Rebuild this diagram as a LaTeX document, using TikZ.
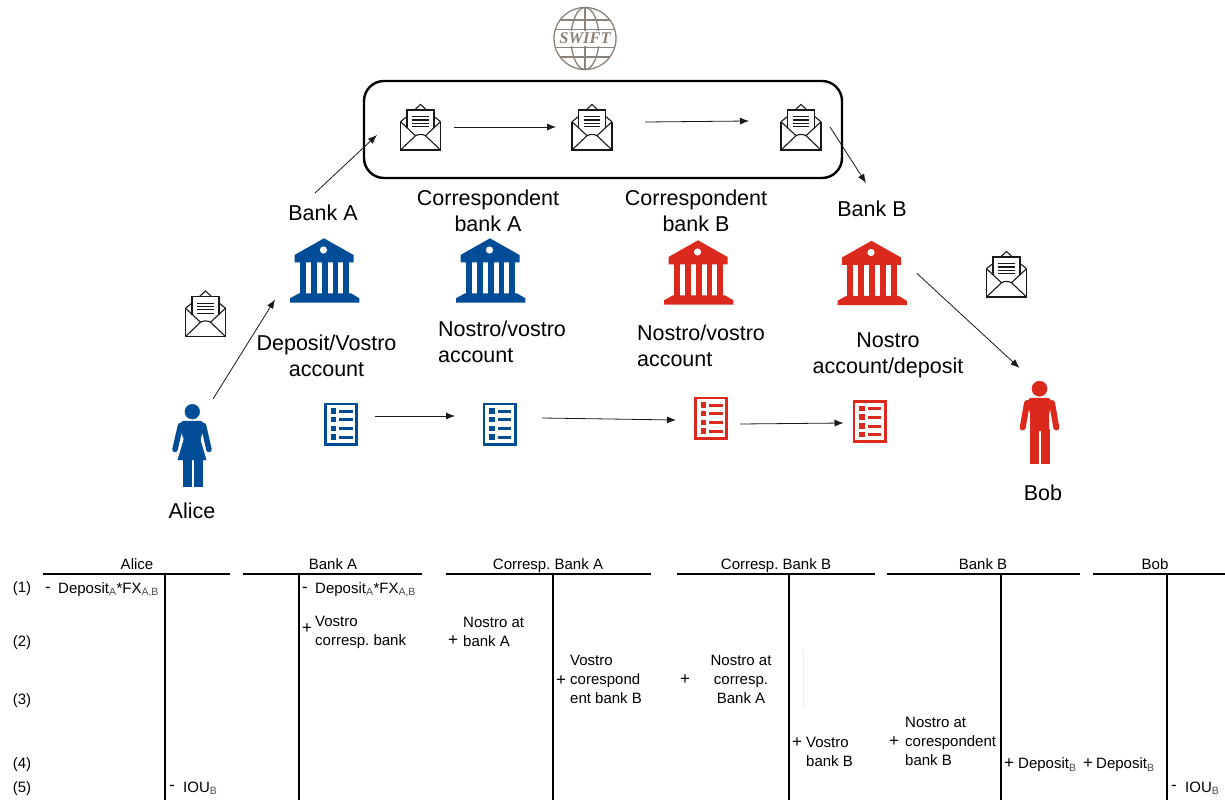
\documentclass[tikz,border=0pt]{standalone}
\usepackage{fontspec}
\setmainfont{Liberation Sans}
\newfontfamily\logofont{Liberation Serif}
\usetikzlibrary{arrows.meta}
\usetikzlibrary{positioning}

\definecolor{bankblue}{HTML}{004C97}
\definecolor{bankred}{HTML}{DC291E}
\definecolor{logogray}{HTML}{8C8279}

\newcommand{\sbs}[1]{\textsubscript{\textcolor{black!70}{#1}}}

\tikzset{
  iconbox/.style={inner sep=0pt, outer sep=0pt, minimum width=#1},
  flow/.style={-{Latex[length=9pt,width=7pt]}, line width=0.8pt, black!90},
  biglabel/.style={inner sep=0pt, align=center, font=\fontsize{21.5}{26}\selectfont},
  tabtxt/.style={inner sep=0pt, anchor=west, align=left, font=\fontsize{15}{19}\selectfont},
  tabsign/.style={inner sep=0pt, anchor=west, font=\fontsize{17}{19}\selectfont},
  tabmid/.style={inner sep=0pt, align=center, font=\fontsize{15}{19}\selectfont},
  taccount/.style={line width=2.4pt},
  bankicon/.pic={
    \node[iconbox=69pt, minimum height=65pt] (-box) {};
    \fill[pic actions] (-1,-32.7) -- (-30.5,-16) -- (-30.5,-8.7) -- (28.5,-8.7) -- (28.5,-16) -- cycle;
    \fill[white] (-1.5,-21) circle (3.6);
    \foreach \colx in {-22.2,-11.2,-0.3,10.5,21.3}
      \fill[pic actions] (\colx-2.9,-8.7) rectangle (\colx+2.9,23);
    \fill[pic actions] (-26,22.3) -- (26,22.3) -- (34.3,27.3) -- (34.3,31.7) -- (-35,31.7) -- (-35,27.3) -- cycle;
  },
  listicon/.pic={
    \node[iconbox=34pt, minimum height=43pt] (-box) {};
    \draw[pic actions, fill=none, line width=2.8pt] (-15.6,-20.1) rectangle (15.6,20.1);
    \foreach \rowy in {-13.2,-4.8,4.2,12.8} {
      \fill[pic actions] (-10,\rowy-2.2) rectangle (-5.4,\rowy+2.2);
      \fill[pic actions] (-1.7,\rowy-1) rectangle (10.7,\rowy+1);
    }
  },
  mailicon/.pic={
    \node[iconbox=41pt, minimum height=46pt] (-box) {};
    \begin{scope}[line width=1.1pt, black!90]
      \draw (-20,-6.3) -- (-20,22) -- (20,22) -- (20,-6.3);
      \draw (-20,-6.3) -- (-13.5,-11.5) (20,-6.3) -- (13.5,-11.5);
      \draw (-6,-18) -- (0,-23.5) -- (6,-18);
      \draw (-13.5,0) -- (-13.5,-18) -- (13.5,-18) -- (13.5,0);
      \draw (-20,-6.3) -- (-5,7.7) .. controls (-2,6) and (2,6) .. (5,7.7) -- (20,-6.3);
      \draw (-20,22) -- (-5,7.7) (20,22) -- (5,7.7);
      \foreach \liney in {-11.3,-8,-4.7,-1.3}
        \draw[line width=1.2pt] (-8.3,\liney) -- (8.3,\liney);
    \end{scope}
  },
  womanicon/.pic={
    \node[iconbox=40pt, minimum height=82pt] (-box) {};
    \fill[pic actions] (0.3,-35.3) circle (7.4);
    \fill[pic actions, rounded corners=3pt] (-11,-26) -- (11,-26) -- (12,-18) -- (8,-8) [sharp corners] -- (14.2,13) -- (-14.2,13) -- (-8,-8) [rounded corners=3pt] -- (-12,-18) -- cycle;
    \draw[pic actions, fill=none, line width=5.5pt, line cap=round] (-11.5,-21.5) -- (-17,2.5) (11.5,-21.5) -- (17,2.5);
    \fill[pic actions] (-8.7,12) rectangle (-1,38.7);
    \fill[pic actions] (2.3,12) rectangle (9.7,38.7);
  },
  manicon/.pic={
    \node[iconbox=40pt, minimum height=88pt] (-box) {};
    \fill[pic actions] (0,-36.3) circle (7.6);
    \fill[pic actions, rounded corners=3pt] (-11,-27) -- (11,-27) -- (11.5,-20) -- (9.3,-12) [sharp corners] -- (9.3,6) -- (-9.3,6) -- (-9.3,-12) [rounded corners=3pt] -- (-11.5,-20) -- cycle;
    \draw[pic actions, fill=none, line width=6pt, line cap=round] (-12.5,-22) -- (-16.8,2.5) (12.5,-22) -- (16.8,2.5);
    \fill[pic actions] (-9,4) rectangle (-1,37.8);
    \fill[pic actions] (1.3,4) rectangle (9.3,37.8);
  }
}

\begin{document}
\frenchspacing
\begin{tikzpicture}[x=1pt, y=-1pt]
  \useasboundingbox (0,0) rectangle (1225,800);

  % logo
  \begin{scope}[shift={(585,38.5)}, logogray, line width=1.3pt]
    \draw (0,0) circle (31);
    \draw (0,-31) -- (0,31);
    \draw (0,0) ellipse (14 and 31);
    \draw (-29.7,-9) -- (29.7,-9) (-29.7,9) -- (29.7,9);
    \draw (-25.1,-18.5) -- (25.1,-18.5) (-25.1,18.5) -- (25.1,18.5);
    \node[fill=white, inner sep=0pt, minimum width=54pt, minimum height=15.5pt, font=\logofont\bfseries\itshape\fontsize{16.5}{16.5}\selectfont] (swift) at (0,0) {SWIFT};
  \end{scope}

  \node[draw, line width=2.4pt, rounded corners=20pt, minimum width=478pt, minimum height=97pt, inner sep=0pt] (network) at (603,129.5) {};

  \pic (mail1) at (420.5,128) {mailicon};
  \pic (mail2) at (592,128) {mailicon};
  \pic (mail3) at (801,128) {mailicon};
  \pic (mail4) at (205.5,314.5) {mailicon};
  \pic (mail5) at (1006.5,275) {mailicon};

  \pic[fill=bankblue] (bankA) at (325,271) {bankicon};
  \pic[fill=bankblue] (corrA) at (491,271) {bankicon};
  \pic[fill=bankred] (corrB) at (699,273) {bankicon};
  \pic[fill=bankred] (bankB) at (872.5,273.5) {bankicon};

  \pic[fill=bankblue, draw=bankblue] (listA) at (341,424) {listicon};
  \pic[fill=bankblue, draw=bankblue] (listB) at (499.5,424) {listicon};
  \pic[fill=bankred, draw=bankred] (listC) at (711,418) {listicon};
  \pic[fill=bankred, draw=bankred] (listD) at (869.5,421.5) {listicon};

  \pic[fill=bankblue, draw=bankblue] (alice) at (192,447) {womanicon};
  \pic[fill=bankred, draw=bankred] (bob) at (1039.5,425) {manicon};

  \node[biglabel] (lblBankA) at (323,213) {Bank A};
  \node[biglabel] (lblCorrA) at (488,211) {Correspondent\\bank A};
  \node[biglabel] (lblCorrB) at (696,211) {Correspondent\\bank B};
  \node[biglabel] (lblBankB) at (872,209) {Bank B};
  \node[biglabel] (lblDepo) at (326.5,356) {Deposit/Vostro\\account};
  \node[biglabel, align=left] (lblNvA) at (502,342) {Nostro/vostro\\account};
  \node[biglabel, align=left] (lblNvB) at (701,346) {Nostro/vostro\\account};
  \node[biglabel] (lblNoDe) at (888,355.5) {Nostro\\account/deposit};
  \node[biglabel] (lblAlice) at (192,511) {Alice};
  \node[biglabel] (lblBob) at (1043,493) {Bob};

  \draw[flow] ([shift={(1,-7)}]alice-box.north east) -- ([shift={(-15.5,-4)}]bankA-box.south west);
  \draw[flow] ([shift={(-10,-45.5)}]bankA-box.north) -- ([shift={(-23,7)}]mail1-box.west);
  \draw[flow] ([shift={(13,-1)}]mail1-box.east) -- ([shift={(-15.5,-1)}]mail2-box.west);
  \draw[flow] ([shift={(32.5,-6)}]mail2-box.east) -- ([shift={(-31.5,-7)}]mail3-box.west);
  \draw[flow] ([shift={(8.5,-1)}]mail3-box.east) -- ([shift={(-6.5,-58)}]bankB-box.north);
  \draw[flow] ([shift={(10,0)}]bankB-box.east) -- ([shift={(0,-13)}]bob-box.north west);
  \draw[flow] ([shift={(17,-8)}]listA-box.east) -- ([shift={(-27.5,-8)}]listB-box.west);
  \draw[flow] ([shift={(25.5,-6)}]listB-box.east) -- ([shift={(-18,2)}]listC-box.west);
  \draw[flow] ([shift={(12,6)}]listC-box.east) -- ([shift={(-9,1.5)}]listD-box.west);

  % T accounts
  \foreach \acc/\xa/\xb/\xv/\xt/\ttl in {al/43/230/165/137/Alice, ba/243/422/299/333/Bank A, ca/446/651/553/548/Corresp. Bank A, cb/677/875/789/776/Corresp. Bank B, bb/887/1080/1001/983/Bank B, bo/1093/1225/1167/1155/Bob} {
    \node[tabmid, text height=11pt, text depth=3pt] (head\acc) at (\xt,565) {\ttl};
    \draw[taccount] (\xa,574) -- (\xb,574);
    \draw[taccount] (\xv,574) -- (\xv,800);
  }
  \draw[black!8, line width=0.8pt] (803,650) -- (803,707);

  \foreach \rownr/\rowy in {1/589, 2/643, 3/701, 4/765, 5/789}
    \node[tabmid] (row\rownr) at (22,\rowy) {(\rownr)};

  \node[tabsign] (alMinus) at (45,590) {-};
  \node[tabtxt] (alDepo) at (58,590) {Deposit\sbs{A}*FX\sbs{A,B}};
  \node[tabsign] (alIouM) at (169,788) {-};
  \node[tabtxt] (alIou) at (183,788) {IOU\sbs{B}};

  \node[tabsign] (baMinus) at (302,590) {-};
  \node[tabtxt] (baDepo) at (315,590) {Deposit\sbs{A}*FX\sbs{A,B}};
  \node[tabsign] (baPlus) at (302,629) {+};
  \node[tabtxt] (baVos) at (315,632) {Vostro\\corresp. bank};

  \node[tabsign] (caPlusL) at (448,641) {+};
  \node[tabtxt] (caNos) at (463,632) {Nostro at\\bank A};
  \node[tabsign] (caPlusR) at (556,681) {+};
  \node[tabtxt] (caVos) at (570,679) {Vostro\\corespond\\ent bank B};

  \node[tabsign] (cbPlusL) at (680,680) {+};
  \node[tabmid] (cbNos) at (741,679) {Nostro at\\corresp.\\Bank A};
  \node[tabsign] (cbPlusR) at (792,743) {+};
  \node[tabtxt] (cbVos) at (806,752) {Vostro\\bank B};

  \node[tabsign] (bbPlusL) at (889,742) {+};
  \node[tabtxt] (bbNos) at (905,741) {Nostro at\\corespondent\\bank B};
  \node[tabsign] (bbPlusR) at (1004,764) {+};
  \node[tabtxt] (bbDepo) at (1018,765) {Deposit\sbs{B}};

  \node[tabsign] (boPlus) at (1083,764) {+};
  \node[tabtxt] (boDepo) at (1096,765) {Deposit\sbs{B}};
  \node[tabsign] (boIouM) at (1171,788) {-};
  \node[tabtxt] (boIou) at (1185,788) {IOU\sbs{B}};
\end{tikzpicture}
\end{document}
